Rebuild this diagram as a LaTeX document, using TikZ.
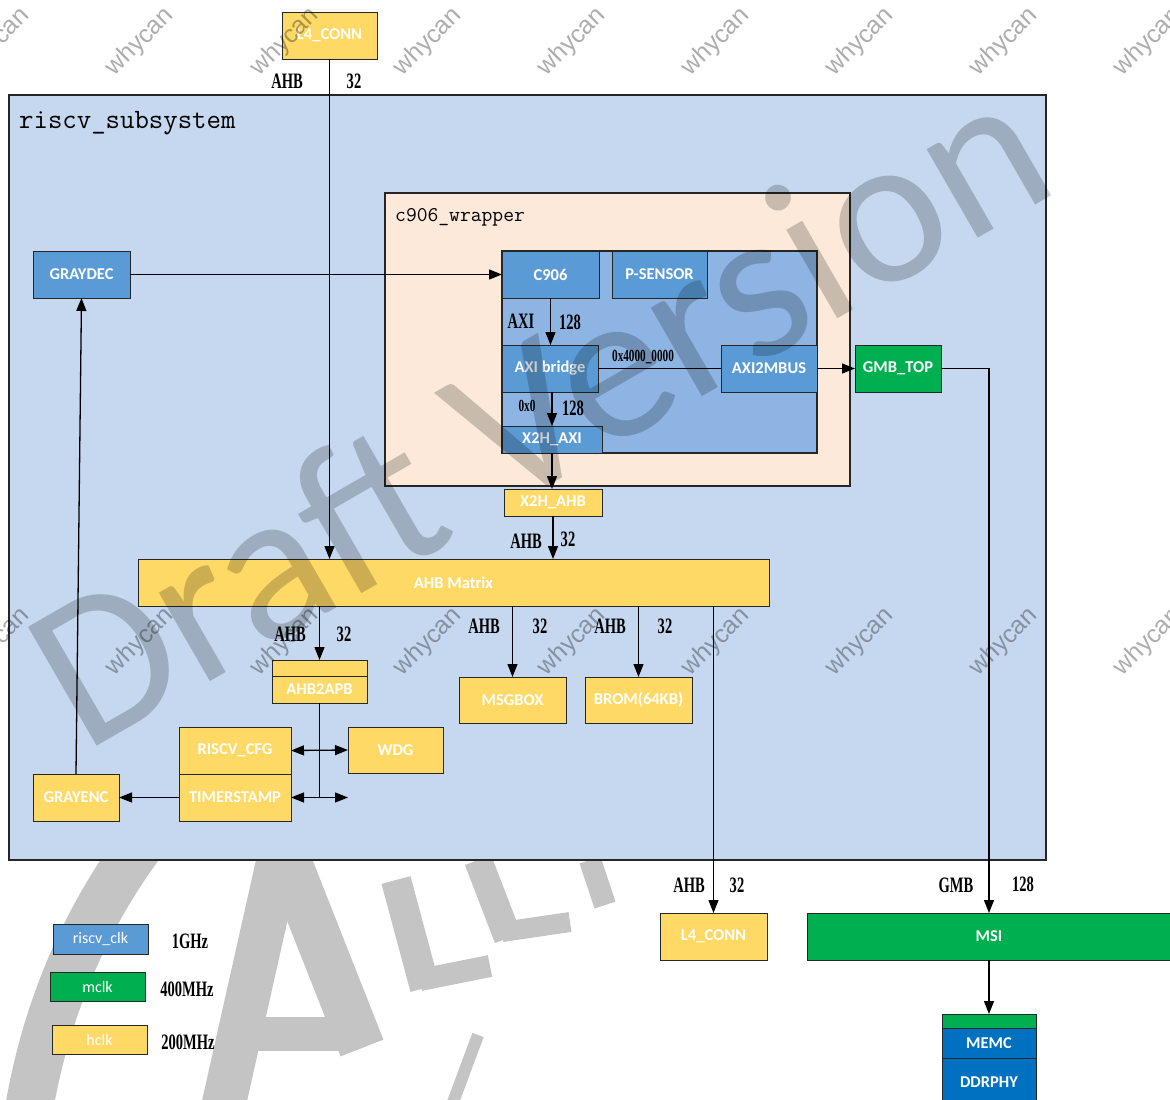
\documentclass[tikz,border=0pt]{standalone}
\usepackage{fontspec}
\usetikzlibrary{arrows.meta}
\newfontfamily\boxfont{Carlito}
\newfontfamily\lblfont[FakeStretch=0.66]{Liberation Serif}
\newfontfamily\wmfont{Liberation Sans}
\definecolor{subbg}{HTML}{C6D8EF}
\definecolor{wrapbg}{HTML}{FCE9DA}
\definecolor{innerbg}{HTML}{8EB4E3}
\definecolor{nblue}{HTML}{5B9BD5}
\definecolor{nyellow}{HTML}{FFD966}
\definecolor{ngreen}{HTML}{00B050}
\definecolor{ndblue}{HTML}{0070C0}
\definecolor{logogray}{HTML}{C4C4C4}
\tikzset{
  base/.style={draw=black!85, line width=1pt, inner sep=0pt, outer sep=0pt, text=white,
    font=\boxfont\bfseries\fontsize{16.5}{18}\selectfont},
  bb/.style={base, fill=nblue},
  yb/.style={base, fill=nyellow},
  gb/.style={base, fill=ngreen},
  db/.style={base, fill=ndblue},
  legbox/.style={base, font=\boxfont\fontsize{16}{18}\selectfont},
  arr/.style={line width=1.3pt, -{Triangle[length=13pt,width=10pt]}},
  darr/.style={line width=1.3pt, {Triangle[length=13pt,width=10pt]}-{Triangle[length=13pt,width=10pt]}},
  ln/.style={line width=1.3pt},
  lbl/.style={font=\lblfont\bfseries\fontsize{22}{22}\selectfont, inner sep=0pt},
  slbl/.style={font=\lblfont\bfseries\fontsize{17}{17}\selectfont, inner sep=0pt},
  wm/.style={font=\wmfont\fontsize{25}{25}\selectfont, text=black!32, rotate=45},
  logo/.style={draw=logogray, line cap=butt}
}
\begin{document}
\begin{tikzpicture}[x=1pt,y=-1pt]
\useasboundingbox[fill=white] (0,0) rectangle (1170,1100);

% background logo watermark
\draw[logo, line width=48pt] (28,1115) .. controls (45,1010) and (85,920) .. (140,845);
\draw[logo, line width=44pt] (222,1112) -- (279,858);
\draw[logo, line width=46pt] (287,858) -- (362,1048);
\draw[logo, line width=34pt] (238,1034) -- (345,1034);
\draw[logo, line width=30pt] (396,880) -- (425,988);
\draw[logo, line width=22pt] (420,980) -- (490,966);
\draw[logo, line width=28pt] (478,860) -- (508,938);
\draw[logo, line width=20pt] (502,932) -- (570,922);
\draw[logo, line width=22pt] (590,860) -- (605,905);
\draw[logo, line width=12pt] (452,1105) -- (478,1035);

% containers
\node[draw=black!85, line width=1.2pt, fill=subbg, minimum width=1037pt, minimum height=765pt, inner sep=0pt] (sub) at (527.5,477.5) {};
\node[anchor=base west, inner sep=0pt, font=\ttfamily\fontsize{28}{28}\selectfont] (subl) at (19,128) {riscv\_subsystem};
\node[draw=black!85, line width=1.2pt, fill=wrapbg, minimum width=465pt, minimum height=293pt, inner sep=0pt] (wrap) at (617.5,339.5) {};
\node[anchor=base west, inner sep=0pt, font=\ttfamily\fontsize{21}{21}\selectfont] (wrapl) at (395,221) {c906\_wrapper};
\node[draw=black!85, line width=1.2pt, fill=innerbg, minimum width=315pt, minimum height=202pt, inner sep=0pt] (inner) at (659.5,352) {};

% blocks
\node[yb, minimum width=95pt, minimum height=47pt] (L4top) at (329.5,35.5) {L4\_CONN};
\node[bb, minimum width=97pt, minimum height=47pt] (C906) at (550.5,274.5) {C906};
\node[bb, minimum width=95pt, minimum height=47pt] (PSENS) at (659.5,274.5) {P-SENSOR};
\node[bb, minimum width=96pt, minimum height=47pt] (AXIb) at (550,368.5) {AXI bridge};
\node[bb, minimum width=96pt, minimum height=47pt] (A2M) at (769,368.5) {AXI2MBUS};
\node[bb, minimum width=100pt, minimum height=27pt] (X2HAXI) at (552,439.5) {X2H\_AXI};
\node[gb, minimum width=86pt, minimum height=47pt] (GMB) at (898,368.5) {GMB\_TOP};
\node[yb, minimum width=98pt, minimum height=27pt] (X2HAHB) at (553,502.5) {X2H\_AHB};
\node[yb, minimum width=631pt, minimum height=47pt] (AHBM) at (453.5,582.5) {AHB Matrix};
\node[yb, minimum width=95pt, minimum height=16pt] (AHB2APBtop) at (319.5,668) {};
\node[yb, minimum width=95pt, minimum height=27pt] (AHB2APB) at (319.5,689.5) {AHB2APB};
\node[yb, minimum width=107pt, minimum height=46pt] (MSGBOX) at (512.5,700) {MSGBOX};
\node[yb, minimum width=107pt, minimum height=46pt] (BROM) at (638.5,700) {BROM(64KB)};
\node[yb, minimum width=107pt, minimum height=47pt] (L4bot) at (713.5,936.5) {L4\_CONN};
\node[gb, minimum width=364pt, minimum height=47pt] (MSI) at (989,936.5) {MSI};
\node[gb, minimum width=94pt, minimum height=14pt] (MEMCtop) at (989,1021) {};
\node[db, minimum width=94pt, minimum height=30pt] (MEMC) at (989,1043) {MEMC};
\node[db, minimum width=94pt, minimum height=48pt] (DDRPHY) at (989,1082) {DDRPHY};
\node[bb, minimum width=97pt, minimum height=47pt] (GRAYDEC) at (81.5,274.5) {GRAYDEC};
\node[yb, minimum width=86pt, minimum height=47pt] (GRAYENC) at (76,797.5) {GRAYENC};
\node[yb, minimum width=112pt, minimum height=47pt] (RISCVCFG) at (235,750.5) {RISCV\_CFG};
\node[yb, minimum width=112pt, minimum height=47pt] (TIMER) at (235,797.5) {TIMERSTAMP};
\node[yb, minimum width=95pt, minimum height=46pt] (WDG) at (395.5,750) {WDG};

% legend
\node[legbox, fill=nblue, minimum width=95pt, minimum height=30pt] (rclk) at (100.5,939) {riscv\_clk};
\node[legbox, fill=ngreen, minimum width=95pt, minimum height=29pt] (mclk) at (97.5,986.5) {mclk};
\node[legbox, fill=nyellow, minimum width=95pt, minimum height=29pt] (hclk) at (99.5,1039.5) {hclk};
\node[lbl] (f1) at (190,941) {1GHz};
\node[lbl] (f2) at (187,989) {400MHz};
\node[lbl] (f3) at (188,1042) {200MHz};

% connectors
\coordinate (apbend) at (319.5,797.5);
\coordinate (tsend) at (348,797.5);
\draw[arr] (L4top.south) -- (L4top.south |- AHBM.north);
\draw[arr] (GRAYDEC.east) -- (C906.west);
\draw[arr] (C906.south) -- (C906.south |- AXIb.north);
\draw[arr] (X2HAXI.north |- AXIb.south) -- (X2HAXI.north);
\draw[ln] (AXIb.east) -- (A2M.west);
\draw[arr] (A2M.east) -- (GMB.west);
\draw[arr] (GMB.east) -| (MSI.north);
\draw[arr] (X2HAXI.south) -- (X2HAXI.south |- X2HAHB.north);
\draw[arr] (X2HAHB.south) -- (X2HAHB.south |- AHBM.north);
\draw[arr] (AHB2APBtop.north |- AHBM.south) -- (AHB2APBtop.north);
\draw[arr] (MSGBOX.north |- AHBM.south) -- (MSGBOX.north);
\draw[arr] (BROM.north |- AHBM.south) -- (BROM.north);
\draw[arr] (L4bot.north |- AHBM.south) -- (L4bot.north);
\draw[arr] (MSI.south) -- (MEMCtop.north);
\draw[ln] (AHB2APB.south) -- (apbend);
\draw[darr] (RISCVCFG.east) -- (WDG.west);
\draw[darr] (TIMER.east) -- (tsend);
\draw[arr] (TIMER.west) -- (GRAYENC.east);
\draw[arr] (GRAYENC.north) -- (GRAYDEC.south);

% connector labels
\node[lbl] (t1) at (287,81) {AHB};
\node[lbl] (t2) at (354,81) {32};
\node[lbl] (t3) at (521,321) {AXI};
\node[lbl] (t4) at (570,322) {128};
\node[slbl] (t5) at (527,406) {0x0};
\node[lbl] (t6) at (573,408) {128};
\node[slbl] (t7) at (643,357) {0x4000\_0000};
\node[lbl] (t8) at (526,541) {AHB};
\node[lbl] (t9) at (568,539) {32};
\node[lbl] (t10) at (290,634) {AHB};
\node[lbl] (t11) at (344,634) {32};
\node[lbl] (t12) at (484,626) {AHB};
\node[lbl] (t13) at (540,626) {32};
\node[lbl] (t14) at (610,626) {AHB};
\node[lbl] (t15) at (665,626) {32};
\node[lbl] (t16) at (689,885) {AHB};
\node[lbl] (t17) at (737,885) {32};
\node[lbl] (t18) at (956,885) {GMB};
\node[lbl] (t19) at (1023,884) {128};

% watermarks
\begin{scope}[blend mode=multiply]
\foreach \i/\x in {0/-4,1/140,2/285,3/428,4/572,5/716,6/860,7/1004,8/1148} {
  \node[wm] (wa\i) at (\x,42) {whycan};
  \node[wm] (wb\i) at (\x,642) {whycan};
}
\node[rotate=30, anchor=base west, inner sep=0pt, text=black!20,
  font=\boxfont\fontsize{214}{214}\selectfont] (draft) at (84,754) {Draft Version};
\end{scope}
\end{tikzpicture}
\end{document}
